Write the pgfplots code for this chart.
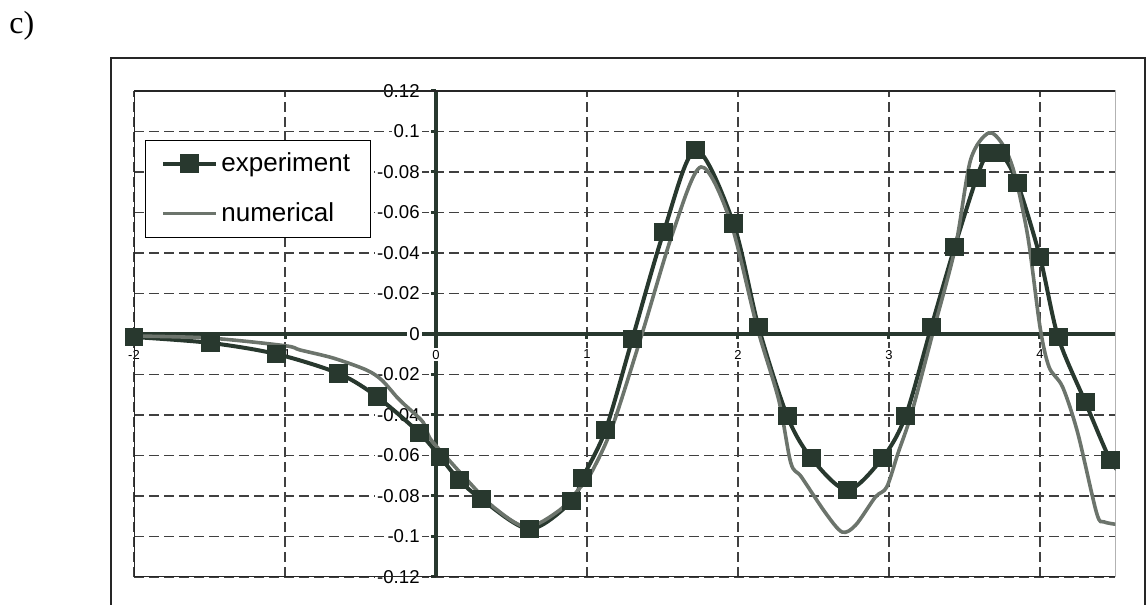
\documentclass[border=0pt]{standalone}
\usepackage{fontspec}
\setmainfont{Liberation Sans}
\newfontfamily\serifc{Liberation Serif}
\usepackage{pgfplots}
\pgfplotsset{compat=1.18}
\definecolor{expcol}{RGB}{40,56,46}
\definecolor{numcol}{RGB}{108,116,108}
\pgfplotsset{layers/mine/.define layer set={axis background,axis grid,axis ticks,axis lines,pre main,main,axis tick labels,axis descriptions,axis foreground}{}}

\begin{document}
\begin{tikzpicture}
\begin{axis}[
    at={(67pt,14pt)}, anchor=south west,
    scale only axis, width=490.75pt, height=243pt,
    set layers=mine,
    xmin=-2, xmax=4.5, ymin=-0.12, ymax=0.12,
    axis lines=middle,
    axis line style={-, line width=2.3pt, color=expcol},
    hide obscured x ticks=false, hide obscured y ticks=false,
    xtick={-2,-1,0,1,2,3,4},
    xticklabels={-2,-1,0,1,2,3,4},
    ytick={-0.12,-0.1,-0.08,-0.06,-0.04,-0.02,0,0.02,0.04,0.06,0.08,0.1,0.12},
    yticklabels={-0.12,-0.1,-0.08,-0.06,-0.04,-0.02,0,-0.02,-0.04,-0.06,-0.08,0.1,0.12},
    grid=major,
    grid style={dash pattern=on 5pt off 2.5pt, line width=0.6pt, color=black!75},
    tick align=outside, major tick length=2.5pt,
    tick style={line width=1.5pt, color=expcol},
    xticklabel style={font=\fontsize{6.5}{7}\selectfont, fill=white, inner sep=0.8pt, yshift=-4.5pt},
    yticklabel style={font=\fontsize{9.3}{10}\selectfont, fill=white, inner sep=1pt, xshift=-4.5pt},
    legend style={at={(0.0112,0.8995)}, anchor=north west, draw=black,
        fill=white, font=\fontsize{13}{15}\selectfont, row sep=10pt,
        inner xsep=8pt, inner ysep=4.25pt},
    legend cell align=left,
    legend image code/.code={\draw[mark repeat=2,mark phase=2,#1,mark indices={2}] plot coordinates {(2pt,0pt) (15pt,0pt) (28pt,0pt)};},
]
\draw[line width=0.7pt, black!85] (rel axis cs:0,0) rectangle (rel axis cs:1,1);

\addplot[color=expcol, line width=2pt, smooth, tension=0.5,
    mark=square*, mark size=3.7pt, mark options={solid, fill=expcol},
    mark indices={1,2,3,4,5,6,7,8,9,10,11,12,13,14,15,16,17,18,19,20,21,22,23,24,25,26,27,28,29,30,31,32,33}]
coordinates {
(-2,-0.0015) (-1.495,-0.0044) (-1.056,-0.0099) (-0.645,-0.0195) (-0.39,-0.031)
(-0.11,-0.0489) (0.027,-0.0607) (0.153,-0.0721) (0.30,-0.0815) (0.62,-0.0963)
(0.90,-0.0825) (0.97,-0.0711) (1.123,-0.0474) (1.30,-0.0025) (1.508,0.0504)
(1.72,0.0909) (1.97,0.0546) (2.136,0.0035) (2.326,-0.0405) (2.485,-0.0612)
(2.724,-0.077) (2.957,-0.0612) (3.11,-0.0405) (3.28,0.0035) (3.435,0.043)
(3.58,0.077) (3.655,0.0894) (3.74,0.0894) (3.85,0.0746) (4.0,0.038)
(4.12,-0.0015) (4.30,-0.0336) (4.465,-0.0622) (4.55,-0.0696)
};
\addlegendentry{experiment}

\addplot[color=numcol, line width=1.8pt, smooth, tension=0.5, no marks]
coordinates {
(-2.0,-0.001) (-1.5,-0.002) (-1.0,-0.0058) (-0.90,-0.0079) (-0.68,-0.0119)
(-0.46,-0.0178) (-0.36,-0.0227) (-0.26,-0.0311) (-0.22,-0.0341) (-0.086,-0.0435)
(-0.04,-0.0515) (0.073,-0.0612) (0.206,-0.0721) (0.38,-0.0854)
(0.60,-0.0953) (0.82,-0.0869) (0.957,-0.0756) (1.01,-0.0711) (1.16,-0.0474)
(1.36,-0.001) (1.57,0.0504) (1.755,0.0825) (1.947,0.0563) (2.126,0.0035)
(2.27,-0.0326) (2.35,-0.0637) (2.42,-0.0706) (2.58,-0.0884) (2.69,-0.0978)
(2.78,-0.0943) (2.91,-0.0805) (2.985,-0.0756) (3.06,-0.0588) (3.15,-0.039)
(3.29,0.0005) (3.44,0.043) (3.54,0.0859) (3.66,0.0993) (3.755,0.0933)
(3.83,0.0795) (3.92,0.0479) (4.0,0.0035) (4.06,-0.0163) (4.15,-0.0262)
(4.25,-0.0489) (4.375,-0.0884) (4.425,-0.0928) (4.54,-0.0943)
};
\addlegendentry{numerical}
\end{axis}
\begin{scope}[x=0.5pt,y=0.5pt]
  \draw[line width=0.7pt, black!85] (111,-20) rectangle (1145,547);
  \node[anchor=base west, inner sep=0pt, font=\serifc\fontsize{16}{18}\selectfont] at (9,571) {c)};
\end{scope}
\pgfresetboundingbox
\path[use as bounding box] (0,0) rectangle (573.5pt,302.5pt);
\end{tikzpicture}
\end{document}
